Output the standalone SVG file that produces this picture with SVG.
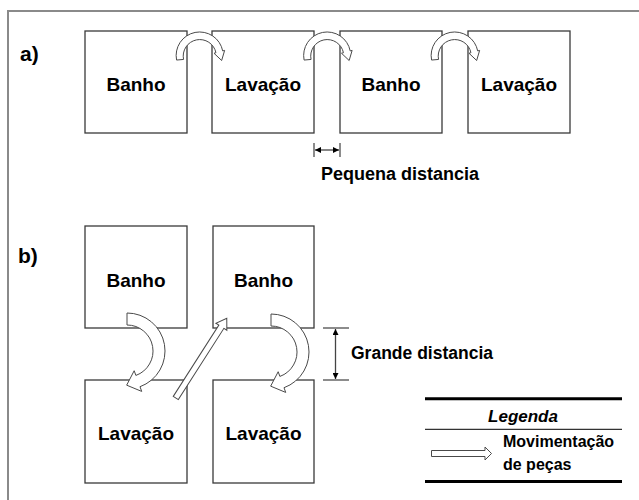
<svg xmlns="http://www.w3.org/2000/svg" xmlns:xlink="http://www.w3.org/1999/xlink" width="639" height="500" viewBox="0 0 639 500">
<style>
.box{fill:#fff;stroke:#3a3a3a;stroke-width:1.3}
.lbl{font-family:"Liberation Sans",Arial,sans-serif;font-weight:bold;font-size:19px;fill:#000;text-anchor:middle}
.txt{font-family:"Liberation Sans",Arial,sans-serif;font-weight:bold;fill:#000}
.mv{fill:#fff;stroke:#4a4a4a;stroke-width:1;stroke-linejoin:miter}
.dim{stroke:#444;stroke-width:1.3;fill:none}
.tick{stroke:#666;stroke-width:1.5}
</style>
<defs>
<path id="arcA" class="mv" d="M-23.41,3.05 A23.5,23.5 0 0 1 22.70,-6.08 L24.63,-6.60 L21.65,3.51 L14.01,-3.75 L15.94,-4.27 A16.5,16.5 0 0 0 -16.44,2.44 Z"/>
<path id="arcB" class="mv" d="M0,-38 A38,38 0 0 1 13.00,35.71 L14.71,40.41 L-0.34,34.17 L7.18,19.73 L8.89,24.43 A26,26 0 0 0 0,-26 Z"/>
<marker id="ah" viewBox="0 0 10 10" refX="10" refY="5" markerWidth="6" markerHeight="6" orient="auto-start-reverse" markerUnits="userSpaceOnUse">
<path d="M0,0 L10,5 L0,10 Z" fill="#000"/>
</marker>
</defs>
<rect width="639" height="500" fill="#fff"/>
<path d="M8,500 L8,11 L639,11" fill="none" stroke="#8a8a8a" stroke-width="2"/>
<text class="txt" x="20" y="61" font-size="21">a)</text>
<text class="txt" x="18" y="263" font-size="21">b)</text>

<g id="a-banho-1"><rect class="box" x="85" y="31" width="102" height="102"/><text class="lbl" x="136" y="90.5">Banho</text></g>
<g id="a-lavacao-1"><rect class="box" x="212" y="31" width="102" height="102"/><text class="lbl" x="263" y="90.5">Lavação</text></g>
<g id="a-banho-2"><rect class="box" x="340" y="31" width="102" height="102"/><text class="lbl" x="391" y="90.5">Banho</text></g>
<g id="a-lavacao-2"><rect class="box" x="468" y="31" width="102" height="102"/><text class="lbl" x="519" y="90.5">Lavação</text></g>

<g id="b-banho-1"><rect class="box" x="85" y="226" width="102" height="102"/><text class="lbl" x="136" y="287">Banho</text></g>
<g id="b-banho-2"><rect class="box" x="213" y="226" width="101" height="102"/><text class="lbl" x="263.5" y="287">Banho</text></g>
<g id="b-lavacao-1"><rect class="box" x="85" y="380" width="102" height="103"/><text class="lbl" x="136" y="440">Lavação</text></g>
<g id="b-lavacao-2"><rect class="box" x="213" y="380" width="101" height="103"/><text class="lbl" x="263.5" y="440">Lavação</text></g>

<g id="connectors">
<use xlink:href="#arcA" transform="translate(200,57)"/>
<use xlink:href="#arcA" transform="translate(327.5,57)"/>
<use xlink:href="#arcA" transform="translate(455,57)"/>
<use xlink:href="#arcB" transform="translate(127,351)"/>
<use xlink:href="#arcB" transform="translate(271,352)"/>
<path class="mv" transform="translate(175.8,398) rotate(-57.4)" d="M0,-3 L84.6,-3 L84.6,-6.5 L94.6,0 L84.6,6.5 L84.6,3 L0,3 Z"/>
</g>

<g id="pequena-distancia">
<line class="tick" x1="314" y1="143" x2="314" y2="157"/>
<line class="tick" x1="340" y1="143" x2="340" y2="157"/>
<line class="dim" x1="315" y1="150" x2="339" y2="150" marker-start="url(#ah)" marker-end="url(#ah)"/>
<text class="txt" x="321" y="180" font-size="18">Pequena distancia</text>
</g>

<g id="grande-distancia">
<line class="tick" x1="323" y1="328" x2="349" y2="328"/>
<line class="tick" x1="323" y1="380" x2="349" y2="380"/>
<line class="dim" x1="335.5" y1="329" x2="335.5" y2="379" marker-start="url(#ah)" marker-end="url(#ah)"/>
<text class="txt" x="351" y="359" font-size="17.5">Grande distancia</text>
</g>

<g id="legenda">
<line x1="425" y1="398.7" x2="622" y2="398.7" stroke="#000" stroke-width="3"/>
<line x1="425" y1="429.3" x2="622" y2="429.3" stroke="#333" stroke-width="1.3"/>
<line x1="425" y1="481.5" x2="622" y2="481.5" stroke="#000" stroke-width="3"/>
<text class="txt" x="523" y="421.5" font-size="17" font-style="italic" text-anchor="middle">Legenda</text>
<path class="mv" d="M431.5,450.5 L485,450.5 L485,447 L491.5,453.5 L485,460 L485,456.5 L431.5,456.5 Z"/>
<text class="txt" x="503" y="447" font-size="16">Movimentação</text>
<text class="txt" x="503" y="470" font-size="16">de peças</text>
</g>
</svg>
